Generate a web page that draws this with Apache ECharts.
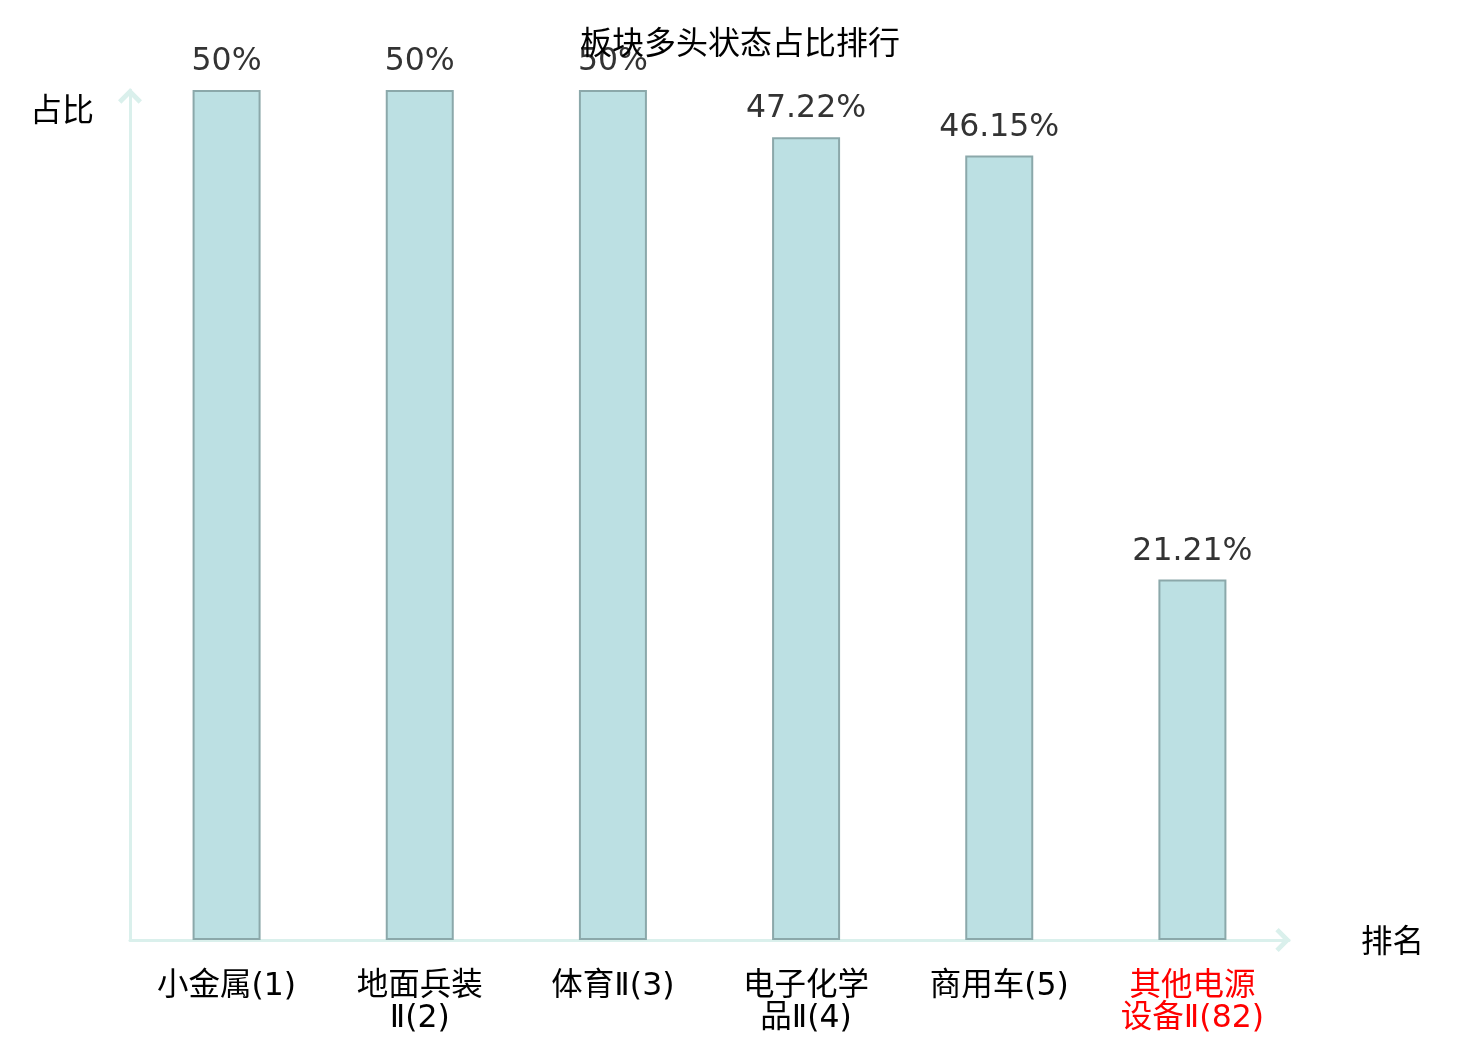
<!DOCTYPE html>
<html>
<head>
<meta charset="utf-8">
<script src="https://cdn.jsdelivr.net/npm/echarts@6/dist/echarts.min.js"></script>
<style>html,body{margin:0;padding:0;background:#fff;}#c{width:1480px;height:1040px;}</style>
</head>
<body>
<div id="c"></div>
<script>
var titleText = '板块多头状态占比排行';
var categories = ['小金属(1)', '地面兵装Ⅱ(2)', '体育Ⅱ(3)', '电子化学品Ⅱ(4)', '商用车(5)', '其他电源设备Ⅱ(82)'];
var values = [50, 50, 50, 47.22, 46.15, 21.21];
var highlightIndex = 5;
var yName = '占比';
var xName = '排名';

var axisColor = '#daf0ec';
var chevron = 'path://M50 0 L100 50 L86 64 L50 28 L14 64 L0 50 Z';
var labelFont = '"DejaVu Sans ExtraLight", "DejaVu Sans", "Noto Sans CJK SC", sans-serif';

function wrapLabel(s) {
  return s.length > 6 ? s.slice(0, 4) + '\n' + s.slice(4) : s;
}

var axisLineCfg = {
  show: true,
  symbol: ['none', chevron],
  symbolSize: [24, 16],
  symbolOffset: [0, -6],
  lineStyle: { color: axisColor, width: 3 }
};

var chart = echarts.init(document.getElementById('c'));
chart.setOption({
  animation: false,
  backgroundColor: '#fff',
  title: {
    text: titleText,
    left: 'center',
    top: 21,
    textStyle: { fontSize: 32, fontWeight: 'normal', color: '#000', fontFamily: 'Noto Sans CJK SC' }
  },
  grid: { left: 130, right: 191, top: 90, bottom: 100, containLabel: false },
  xAxis: {
    type: 'category',
    data: categories.map(function (c, i) {
      return i === highlightIndex ? { value: c, textStyle: { color: '#f00' } } : c;
    }),
    name: xName,
    nameLocation: 'end',
    nameGap: 72,
    nameTextStyle: { fontSize: 31.5, color: '#000', fontFamily: 'Noto Sans CJK SC' },
    axisLine: axisLineCfg,
    axisTick: { show: false },
    axisLabel: {
      interval: 0,
      margin: 31,
      fontSize: 31.5,
      lineHeight: 32,
      color: '#000',
      fontFamily: labelFont,
      formatter: wrapLabel
    },
    splitLine: { show: false }
  },
  yAxis: {
    type: 'value',
    min: 0,
    max: 50,
    name: yName,
    nameLocation: 'end',
    nameGap: -19,
    nameTextStyle: { fontSize: 32, color: '#000', fontFamily: 'Noto Sans CJK SC', align: 'right', verticalAlign: 'middle', padding: [0, 36, 0, 0] },
    axisLine: axisLineCfg,
    axisTick: { show: false },
    axisLabel: { show: false },
    splitLine: { show: false }
  },
  series: [{
    type: 'bar',
    data: values,
    barWidth: 68,
    itemStyle: { color: '#bce0e3', borderColor: '#8ba8aa', borderWidth: 2 },
    label: {
      show: true,
      position: 'top',
      distance: 12,
      fontSize: 31.5,
      color: '#333',
      fontFamily: 'DejaVu Sans',
      formatter: function (p) { return p.value + '%'; }
    }
  }]
});
</script>
</body>
</html>
